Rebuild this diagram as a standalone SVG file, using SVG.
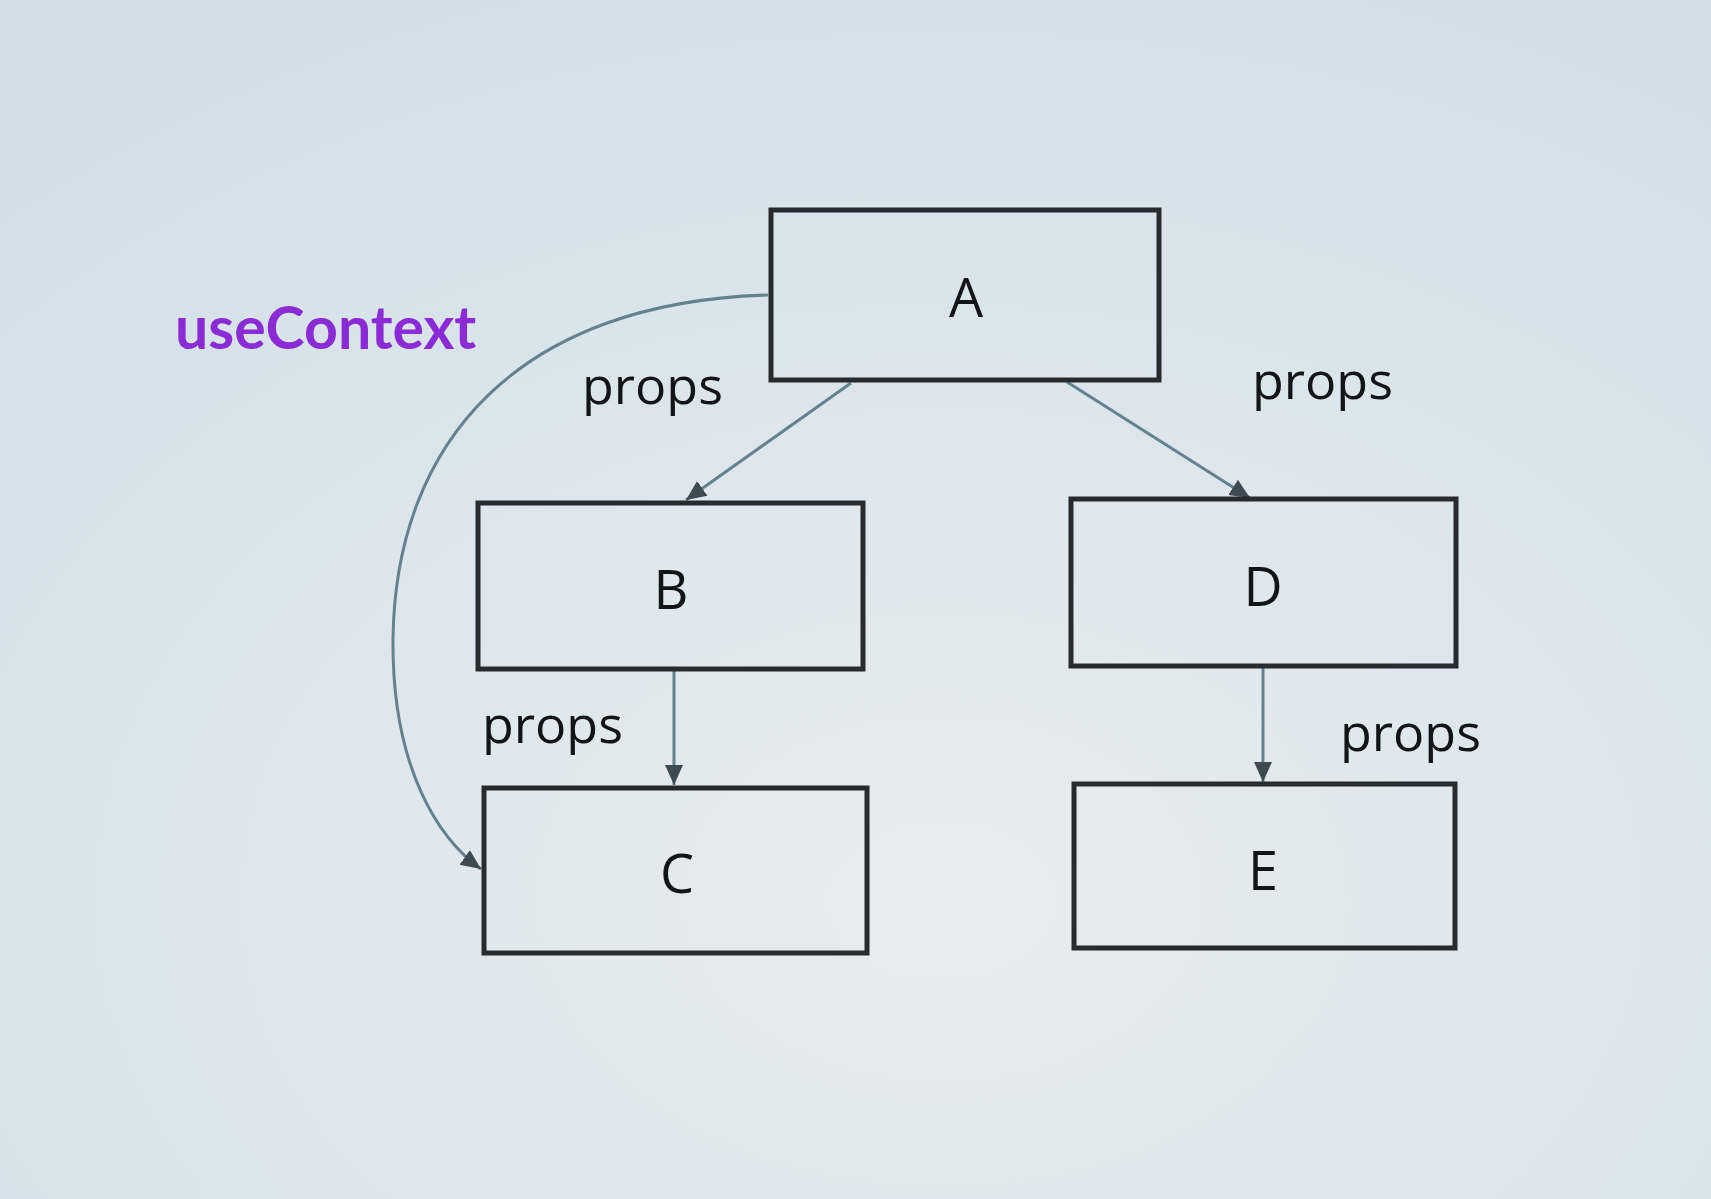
<svg xmlns="http://www.w3.org/2000/svg" width="1711" height="1199" viewBox="0 0 1711 1199">
  <defs>
    <radialGradient id="bg" cx="0.55" cy="0.75" r="0.8">
      <stop offset="0" stop-color="#e6edf1"/>
      <stop offset="1" stop-color="#d3dfe8"/>
    </radialGradient>
    <marker id="arr" markerUnits="userSpaceOnUse" markerWidth="22" markerHeight="20" refX="20" refY="10" orient="auto">
      <path d="M0,1 L20,10 L0,19 Z" fill="#3d4a52"/>
    </marker>
    <style>
      .box { fill: none; stroke: #262b2f; stroke-width: 5; }
      .lbl { font-family: "Open Sans", "DejaVu Sans", sans-serif; font-size: 54px; fill: #111418; text-anchor: middle; }
      .edge { fill: none; stroke: #66808e; stroke-width: 3; marker-end: url(#arr); }
      .props { font-family: "Open Sans", "DejaVu Sans", sans-serif; font-size: 52px; fill: #111418; }
      .ctx { font-family: Lato, "Open Sans", sans-serif; font-weight: bold; font-size: 59px; fill: #8a2bd6; }
    </style>
  </defs>
  <rect width="1711" height="1199" fill="url(#bg)"/>

  <g id="connectors">
    <line class="edge" x1="851" y1="383" x2="686" y2="500"/>
    <line class="edge" x1="1067" y1="382" x2="1250" y2="498"/>
    <line class="edge" x1="674" y1="671" x2="674" y2="785"/>
    <line class="edge" x1="1263" y1="668" x2="1263" y2="782"/>
    <path class="edge" d="M 768 295 C 520 302 395 440 393 640 C 392 770 440 840 481 869"/>
  </g>

  <g id="node-A"><rect class="box" x="771" y="210" width="388" height="170"/><text class="lbl" x="966" y="317">A</text></g>
  <g id="node-B"><rect class="box" x="478" y="503" width="385" height="166"/><text class="lbl" x="671" y="609">B</text></g>
  <g id="node-C"><rect class="box" x="484" y="788" width="383" height="165"/><text class="lbl" x="677" y="893">C</text></g>
  <g id="node-D"><rect class="box" x="1071" y="499" width="385" height="167"/><text class="lbl" x="1263" y="606">D</text></g>
  <g id="node-E"><rect class="box" x="1074" y="784" width="381" height="164"/><text class="lbl" x="1263" y="890">E</text></g>

  <g id="labels">
    <text class="ctx" x="175" y="349">useContext</text>
    <text class="props" x="582" y="404">props</text>
    <text class="props" x="1252" y="399">props</text>
    <text class="props" x="482" y="743">props</text>
    <text class="props" x="1340" y="751">props</text>
  </g>
</svg>
